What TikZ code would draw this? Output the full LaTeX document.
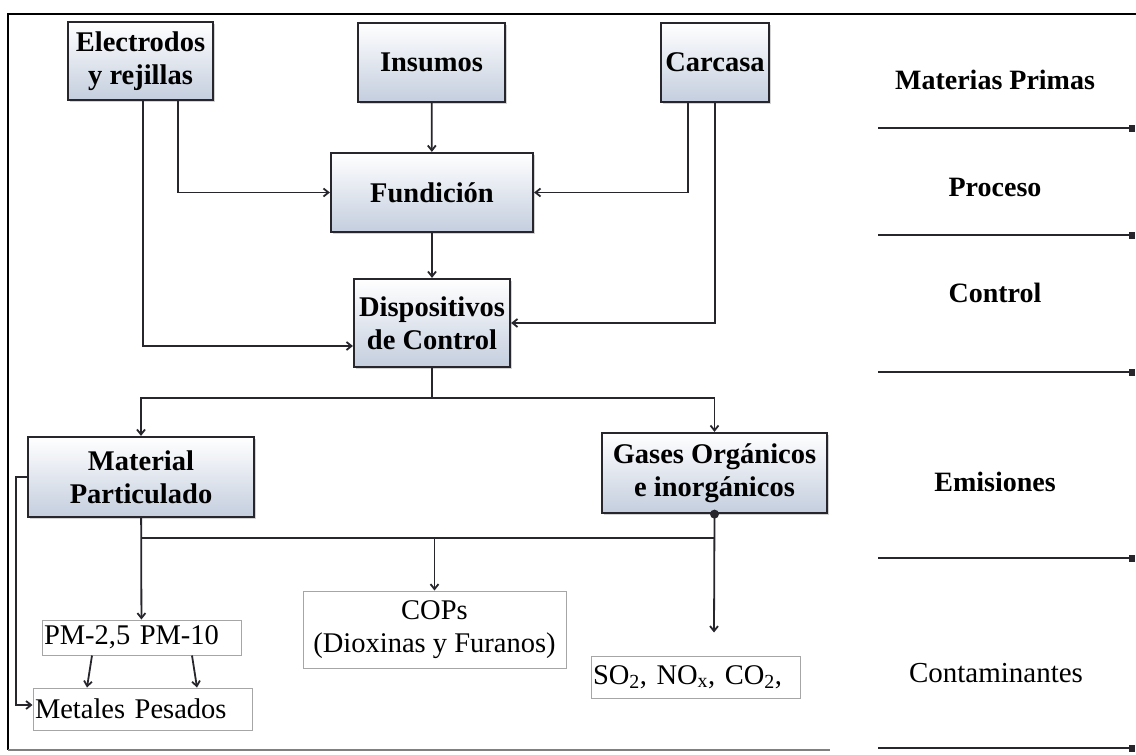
\documentclass[tikz,border=0pt]{standalone}
\usepackage{fontspec}
\setmainfont{Liberation Serif}
\usepackage{tikz}
\usetikzlibrary{arrows.meta,shadows,positioning}
\definecolor{cajafondo}{RGB}{196,206,222}
\definecolor{linea}{RGB}{38,38,44}
\tikzstyle{caja} = [draw=linea, line width=2.2pt, top color=white, bottom color=cajafondo, inner sep=0pt, align=center, font=\fontsize{28.5}{33}\selectfont\bfseries, drop shadow={shadow xshift=1.5pt, shadow yshift=-1.5pt, opacity=0.35}]
\tikzstyle{contam} = [draw=gray!70, line width=1pt, fill=white, inner sep=0pt, inner xsep=2pt, font=\fontsize{28.5}{33}\selectfont]
\tikzstyle{flecha} = [draw=linea, line width=1.8pt, -{Straight Barb[length=5pt,width=8pt]}]
\tikzstyle{etapa} = [font=\fontsize{28}{33}\selectfont\bfseries]

\begin{document}
\begin{tikzpicture}[x=1pt,y=-1pt]
	\useasboundingbox (0,0) rectangle (1136,755);
	\draw[line width=2.8pt] (1136,14) -- (8,14) -- (8,750);
	\draw[gray, line width=1.2pt] (8,750) -- (830,750);

	\node[caja, minimum width=145pt, minimum height=78pt] (elec) at (140.5,61) {Electrodos\\y rejillas};
	\node[caja, minimum width=147pt, minimum height=79pt] (insumos) at (431.5,62.5) {Insumos};
	\node[caja, minimum width=108pt, minimum height=79pt] (carcasa) at (715,62.5) {Carcasa};
	\node[caja, minimum width=202pt, minimum height=79pt] (fund) at (432,192.5) {Fundición};
	\node[caja, minimum width=156pt, minimum height=88pt] (disp) at (432,323) {Dispositivos\\de Control};
	\node[caja, minimum width=226pt, minimum height=80pt] (mat) at (141,477) {Material\\Particulado};
	\node[caja, minimum width=225pt, minimum height=80pt] (gases) at (714.5,473) {Gases Orgánicos\\e inorgánicos};

	\node[contam, text width=195pt, minimum height=35pt] (pm) at (141.5,637.5) {PM-2,5 PM-10};
	\node[contam, text width=215pt, minimum height=42pt] (metales) at (142.5,709) {Metales Pesados};
	\node[contam, align=center, minimum width=263pt, minimum height=77pt] (cops) at (434.5,629.5) {COPs\\(Dioxinas y Furanos)};
	\node[contam, text width=205pt, minimum height=42pt] (so2) at (695.5,677) {SO\textsubscript{2}, NO\textsubscript{x}, CO\textsubscript{2},};

	\draw[flecha] (insumos) -- (fund);
	\draw[flecha] ([xshift=37.5pt]elec.south) |- (fund.west);
	\draw[flecha] ([xshift=2.5pt]elec.south) |- ([yshift=-23pt]disp.west);
	\draw[flecha] ([xshift=-27pt]carcasa.south) |- (fund.east);
	\draw[flecha] (carcasa.south) |- (disp.east);
	\draw[flecha] (fund) -- (disp);

	\coordinate (reparto) at (432,398);
	\draw[draw=linea, line width=1.8pt] (disp.south) -- (reparto);
	\draw[flecha] (reparto) -| (mat.north);
	\draw[flecha] (reparto) -| (gases.north);

	\coordinate (bus) at ([yshift=-20pt]mat.south);
	\draw[flecha] (mat) -- (pm);
	\draw[draw=linea, line width=1.8pt] (bus) -- (bus -| gases.south);
	\draw[flecha] (bus -| cops.north) -- (cops.north);
	\draw[flecha] (gases.south) -- ([xshift=18.5pt,yshift=23pt]so2.north);
	\fill[linea] (gases.south) circle (4.5pt);
	\draw[flecha] (mat.west) -- ++(-11,0) |- ([yshift=4pt]metales.west);
	\draw[flecha] ([xshift=-49.5pt]pm.south) -- ([xshift=-55.5pt]metales.north);
	\draw[flecha] ([xshift=50.5pt]pm.south) -- ([xshift=54.5pt]metales.north);

	\node[etapa] (mprimas) at (995,80) {Materias Primas};
	\node[etapa] (proceso) at (995,187) {Proceso};
	\node[etapa] (control) at (995,293) {Control};
	\node[etapa] (emisiones) at (995,482) {Emisiones};
	\node[font=\fontsize{29}{33}\selectfont] (contaminantes) at (996,673) {Contaminantes};
	\foreach \y in {128,235,372,558,748}
		\draw[draw=linea, line width=1.8pt, -{Square[length=6pt,width=7pt]}] (878,\y) -- (1135,\y);
\end{tikzpicture}
\end{document}
